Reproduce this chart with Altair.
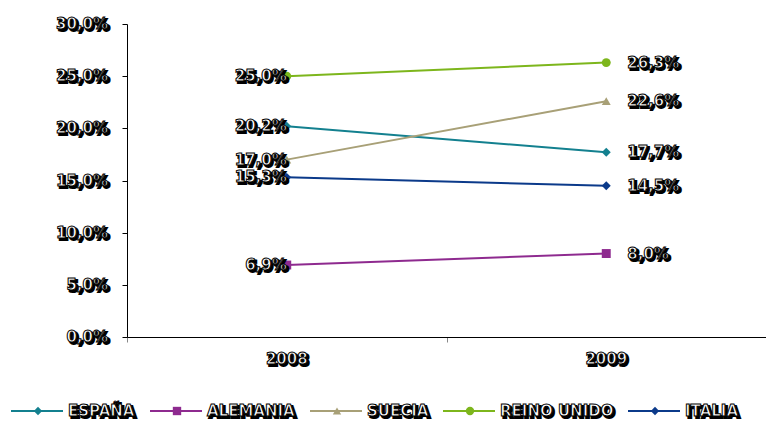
import altair as alt
import pandas as pd

# Series data
years = ["2008", "2009"]
countries = ["ESPAÑA", "ALEMANIA", "SUECIA", "REINO UNIDO", "ITALIA"]
values_2008 = [20.2, 6.9, 17.0, 25.0, 15.3]
values_2009 = [17.7, 8.0, 22.6, 26.3, 14.5]
y_ticks = [0, 5, 10, 15, 20, 25, 30]

# Styling
colors = ["#13808F", "#8E2A8F", "#A8A077", "#7DB61C", "#0B3A8A"]
shapes = ["diamond", "square", "triangle-up", "circle", "diamond"]
legend_left = [11, 150, 310, 443, 628]  # left end of each legend entry (px)

W, H = 766, 421
left, top, bottom = 127, 24, 337
pw, ph = W - left, bottom - top
FONT = "DejaVu Sans"
FS = 15


def pct(v):
    return f"{v:.1f}".replace(".", ",") + "%"


rows = []
for c, a, b in zip(countries, values_2008, values_2009):
    rows.append({"pais": c, "anio": years[0], "valor": a, "etiqueta": pct(a)})
    rows.append({"pais": c, "anio": years[1], "valor": b, "etiqueta": pct(b)})
df = pd.DataFrame(rows)

x_enc = alt.X(
    "anio:N",
    scale=alt.Scale(type="band", domain=years, paddingInner=0, paddingOuter=0),
    axis=alt.Axis(title=None, labels=False, tickBand="extent", domainColor="black",
                  domainWidth=1, tickColor="#888888", tickSize=5, grid=False),
)
y_enc = alt.Y(
    "valor:Q",
    scale=alt.Scale(domain=[0, 30], nice=False, zero=True),
    axis=alt.Axis(title=None, labels=False, values=y_ticks, tickSize=5,
                  tickColor="black", domainColor="black", grid=False),
)
color_enc = alt.Color("pais:N", scale=alt.Scale(domain=countries, range=colors), legend=None)
shape_enc = alt.Shape("pais:N", scale=alt.Scale(domain=countries, range=shapes), legend=None)


def shadow_text(base, dx=0, dy=0, align="center", **enc):
    """White lettering with a black outline and a black drop shadow."""
    back = base.mark_text(font=FONT, fontSize=FS, fontWeight="bold", align=align,
                          baseline="middle", fill="black", stroke="black",
                          strokeWidth=2, dx=dx + 2, dy=dy + 2).encode(**enc)
    front = base.mark_text(font=FONT, fontSize=FS, fontWeight="bold", align=align,
                           baseline="middle", fill="white", stroke="black",
                           strokeWidth=1, dx=dx, dy=dy).encode(**enc)
    return [back, front]


base = alt.Chart(df)
lines = base.mark_line(strokeWidth=2).encode(x=x_enc, y=y_enc, color=color_enc)
points = base.mark_point(filled=True, size=80, opacity=1).encode(
    x=x_enc, y=y_enc, color=color_enc, shape=shape_enc)

layers = [lines, points]

# value labels
lab08 = base.transform_filter(alt.datum.anio == years[0])
lab09 = base.transform_filter(alt.datum.anio == years[1])
layers += shadow_text(lab08, dx=0, align="right", x="anio:N", y="valor:Q", text="etiqueta:N")
layers += shadow_text(lab09, dx=21, align="left", x="anio:N", y="valor:Q", text="etiqueta:N")

# y tick labels
ydf = pd.DataFrame({"valor": y_ticks, "t": [pct(v) for v in y_ticks]})
layers += shadow_text(alt.Chart(ydf), dx=-19, align="right",
                      x=alt.value(0), y="valor:Q", text="t:N")

# x category labels
xdf = pd.DataFrame({"anio": years})
layers += shadow_text(alt.Chart(xdf), dy=22, align="center",
                      x="anio:N", y=alt.value(ph), text="anio:N")

# legend
ly = 411 - top
for c, col, shp, lx in zip(countries, colors, shapes, legend_left):
    ent = alt.Chart(pd.DataFrame({"pais": [c]}))
    x0 = lx - left
    layers.append(ent.mark_rule(color=col, strokeWidth=2).encode(
        x=alt.value(x0), x2=alt.value(x0 + 52), y=alt.value(ly)))
    layers.append(ent.mark_point(filled=True, size=70, opacity=1, color=col, shape=shp).encode(
        x=alt.value(x0 + 27), y=alt.value(ly)))
    layers += shadow_text(ent, dx=0, align="left", x=alt.value(x0 + 57),
                          y=alt.value(ly), text="pais:N")

chart = alt.layer(*layers).properties(
    width=pw, height=ph,
    autosize=alt.AutoSizeParams(type="none"),
    padding={"left": left, "top": top, "right": 0, "bottom": H - bottom},
    background="white",
).configure_view(stroke=None)

chart.save("out.html", embed_options={"renderer": "svg", "actions": False})
